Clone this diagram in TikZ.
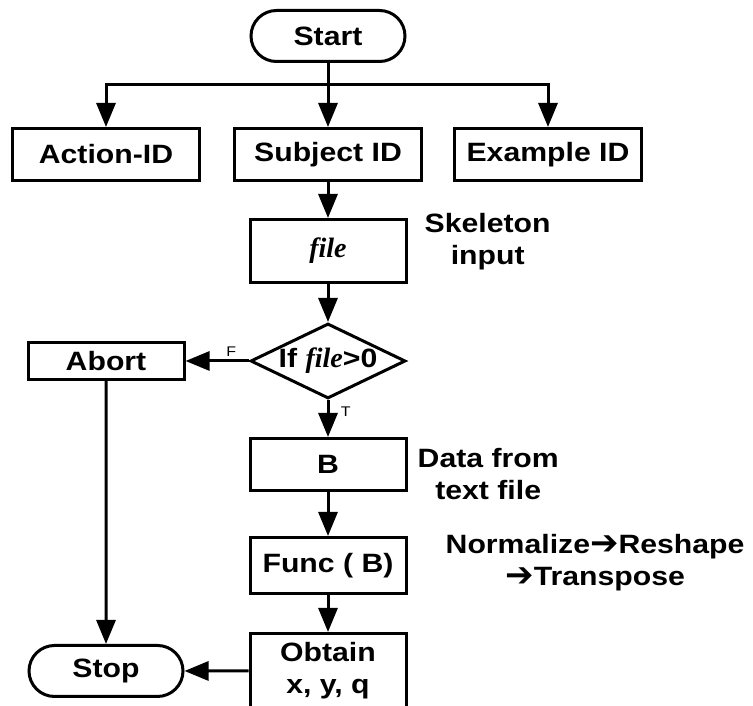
\documentclass[tikz,border=0pt]{standalone}
\usepackage{fontspec}
\setmainfont{Liberation Sans}[FakeStretch=1.14]
\newfontfamily\filefont{Liberation Serif}
\newfontfamily\arrowfont{DejaVu Sans}
\usetikzlibrary{positioning,arrows.meta,shapes.geometric,shapes.misc}

\newcommand\filevar{{\filefont\itshape\fontsize{28}{30}\selectfont file}}
\newcommand\thento{\raisebox{-1pt}{\arrowfont\fontsize{34}{32}\selectfont ➔}}

\tikzset{
  line/.style={line width=3pt},
  arrow/.style={line, -{Triangle[length=24pt,width=19pt]}},
  box/.style={draw, line width=3pt, rectangle, inner sep=2pt, align=center,
    minimum width=156pt, minimum height=52pt,
    font=\fontsize{26.5}{32}\selectfont\bfseries},
  idbox/.style={box, minimum width=187pt},
  term/.style={box, rounded rectangle, minimum width=158pt, minimum height=51pt},
  cond/.style={box, diamond, aspect=2, inner sep=0pt,
    minimum width=155pt, minimum height=73pt},
  note/.style={inner sep=0pt, align=center, font=\fontsize{26.5}{32}\selectfont\bfseries},
  flag/.style={font=\fontsize{14}{16}\selectfont}
}

\begin{document}
\begin{tikzpicture}[x=1pt, y=-1pt]
  \useasboundingbox[fill=white] (0,0) rectangle (753,706);

  \node[term] (start) at (328,36) {Start};
  \node[idbox, below=64pt of start] (subject) {Subject ID};
  \node[idbox, left=32pt of subject] (action) {Action-ID};
  \node[idbox, right=30pt of subject] (example) {Example ID};
  \node[box, below=36pt of subject, minimum height=63pt] (file) {\filevar};
  \node[cond, below=38pt of file] (check) {If \filevar>0};
  \node[box, below=37pt of check] (data) {B};
  \node[box, below=44pt of data, minimum height=56pt] (func) {Func ( B)};
  \node[box, below=37pt of func, minimum height=75pt] (obtain) {Obtain\\x, y, q};
  \node[box, minimum height=37pt] (abort) at (action |- check) {Abort};
  \node[term] (stop) at (abort |- obtain) {Stop};

  \node[note, right=17pt of file, yshift=9pt] (skeleton) {Skeleton\\input};
  \node[note, right=10pt of data, yshift=-10pt] (source) {Data from\\text file};
  \node[note, right=38pt of func, yshift=3pt] (steps) {Normalize\thento Reshape\\\thento Transpose};

  \coordinate[below=22pt of start] (split);

  \draw[arrow] (start) -- (subject);
  \draw[arrow] (split) -| (action);
  \draw[arrow] (split) -| (example);
  \draw[arrow] (subject) -- (file);
  \draw[arrow] (file) -- (check);
  \draw[arrow] (check) -- node[flag, above, pos=.28] (false) {F} (abort);
  \draw[arrow] (check) -- node[flag, right=8pt, pos=.32] (true) {T} (data);
  \draw[arrow] (data) -- (func);
  \draw[arrow] (func) -- (obtain);
  \draw[arrow] (abort) -- (stop);
  \draw[arrow] (obtain) -- (stop);
\end{tikzpicture}
\end{document}
